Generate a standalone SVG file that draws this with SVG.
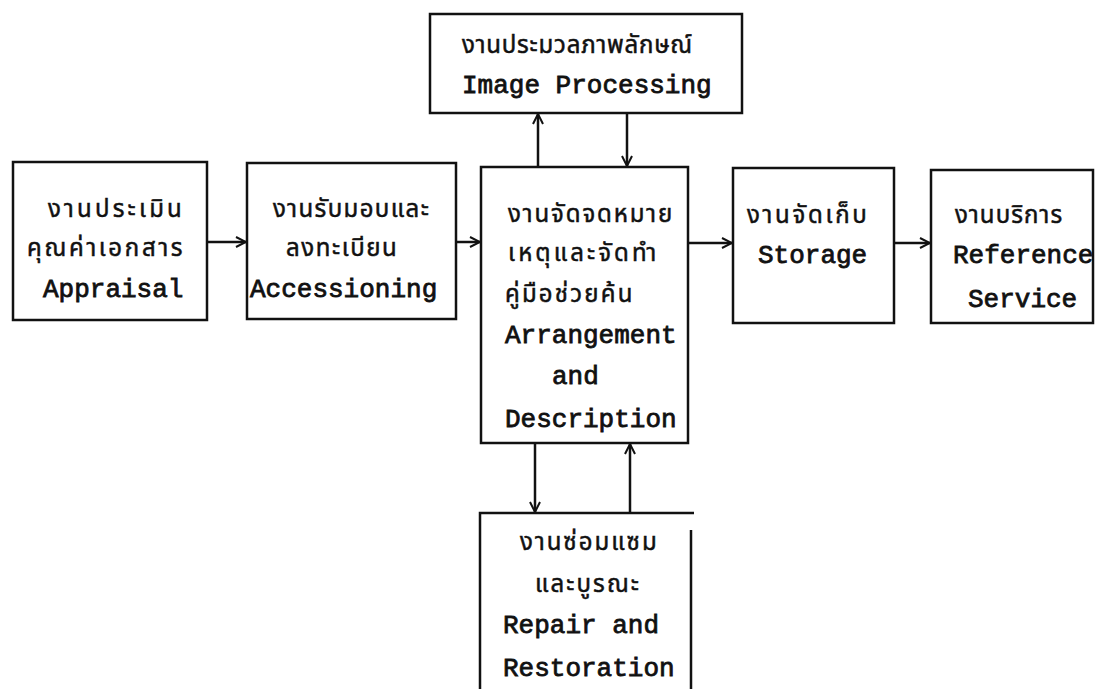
<svg xmlns="http://www.w3.org/2000/svg" width="1106" height="689" viewBox="0 0 1106 689">
<defs>
<style>
.box{fill:none;stroke:#111;stroke-width:2.5}
.con{fill:none;stroke:#111;stroke-width:2.5}
.en{font-family:"Liberation Mono","DejaVu Sans Mono",monospace;font-size:26px;fill:#111;stroke:#111;stroke-width:0.8}
.th{font-family:"Noto Sans Thai","Liberation Sans","DejaVu Sans","Noto Sans CJK SC",sans-serif;font-size:24px;fill:#111;stroke:#111;stroke-width:0.5}
</style>
<marker id="ah" viewBox="0 0 12 12" refX="11" refY="6" markerWidth="12" markerHeight="12" markerUnits="userSpaceOnUse" orient="auto">
<path d="M1,1 L11,6 L1,11" fill="none" stroke="#111" stroke-width="2"/>
</marker>
</defs>
<rect width="1106" height="689" fill="#fff"/>
<g id="connectors">
<line class="con" x1="207" y1="242" x2="246" y2="242" marker-end="url(#ah)"/>
<line class="con" x1="456" y1="242" x2="480" y2="242" marker-end="url(#ah)"/>
<line class="con" x1="688" y1="243" x2="732" y2="243" marker-end="url(#ah)"/>
<line class="con" x1="894" y1="243" x2="930" y2="243" marker-end="url(#ah)"/>
<line class="con" x1="538" y1="167" x2="538" y2="114" marker-end="url(#ah)"/>
<line class="con" x1="627" y1="113" x2="627" y2="166" marker-end="url(#ah)"/>
<line class="con" x1="535" y1="443" x2="535" y2="512" marker-end="url(#ah)"/>
<line class="con" x1="630" y1="513" x2="630" y2="444" marker-end="url(#ah)"/>
</g>
<g id="appraisal">
<rect class="box" x="13" y="162" width="194" height="158"/>
<text class="th" x="48" y="217" letter-spacing="3.2">งานประเมิน</text>
<text class="th" x="27" y="256" letter-spacing="2.7">คุณค่าเอกสาร</text>
<text class="en" x="43" y="297">Appraisal</text>
</g>
<g id="accessioning">
<rect class="box" x="247" y="163" width="209" height="156"/>
<text class="th" x="273" y="217" letter-spacing="1.4">งานรับมอบและ</text>
<text class="th" x="286" y="256" letter-spacing="1.6">ลงทะเบียน</text>
<text class="en" x="250" y="297">Accessioning</text>
</g>
<g id="image-processing">
<rect class="box" x="430" y="14" width="312" height="99"/>
<text class="th" x="462" y="53" letter-spacing="0.8">งานประมวลภาพลักษณ์</text>
<text class="en" x="462" y="93">Image Processing</text>
</g>
<g id="arrangement">
<rect class="box" x="481" y="167" width="207" height="276"/>
<text class="th" x="508" y="222" letter-spacing="1.9">งานจัดจดหมาย</text>
<text class="th" x="508" y="261" letter-spacing="3.1">เหตุและจัดทำ</text>
<text class="th" x="505" y="302" letter-spacing="2.2">คู่มือช่วยค้น</text>
<text class="en" x="505" y="343">Arrangement</text>
<text class="en" x="552" y="384">and</text>
<text class="en" x="505" y="427">Description</text>
</g>
<g id="storage">
<rect class="box" x="733" y="168" width="161" height="155"/>
<text class="th" x="747" y="223" letter-spacing="2.7">งานจัดเก็บ</text>
<text class="en" x="758" y="263">Storage</text>
</g>
<g id="reference-service">
<rect class="box" x="931" y="170" width="162" height="153"/>
<text class="th" x="955" y="223" letter-spacing="1.1">งานบริการ</text>
<text class="en" x="953" y="263">Reference</text>
<text class="en" x="968" y="307">Service</text>
</g>
<g id="repair">
<path class="box" d="M480,700 V513 H694 M691,530 V700"/>
<text class="th" x="520" y="550" letter-spacing="2">งานซ่อมแซม</text>
<text class="th" x="535" y="592" letter-spacing="2.1">และบูรณะ</text>
<text class="en" x="503" y="633">Repair and</text>
<text class="en" x="503" y="676">Restoration</text>
</g>
</svg>
